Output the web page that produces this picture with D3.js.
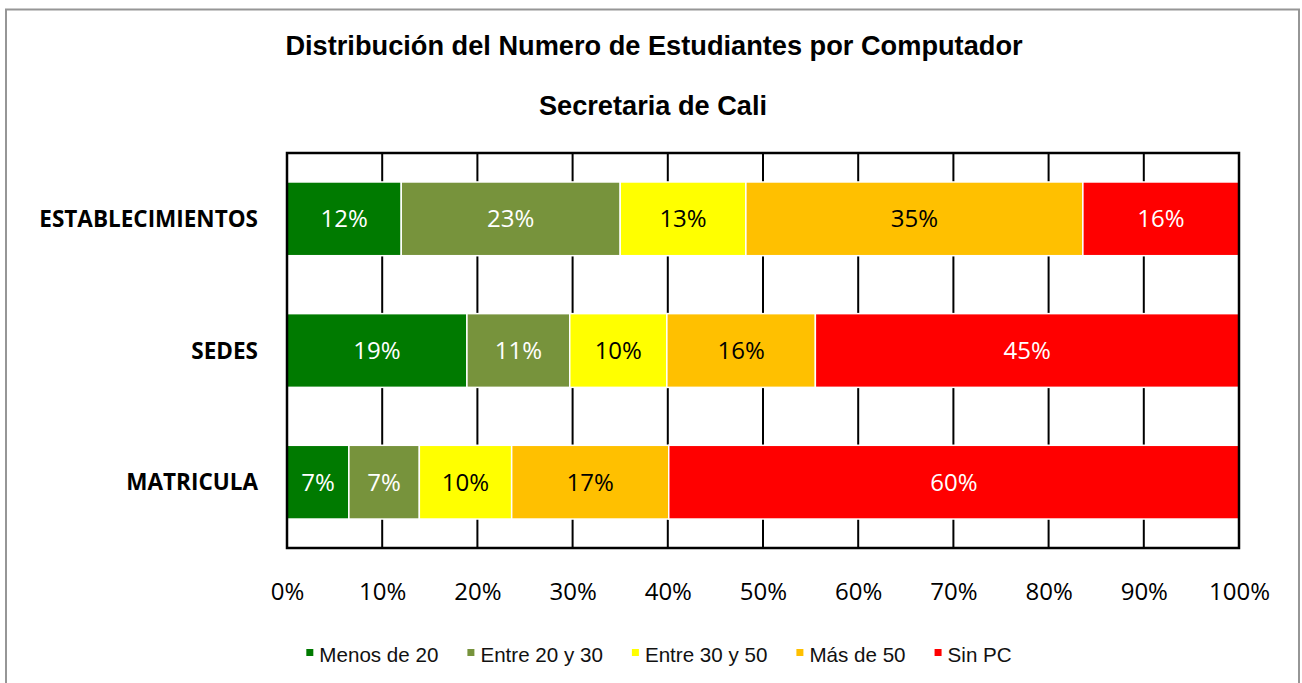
<!DOCTYPE html>
<html>
<head>
<meta charset="utf-8">
<script src="https://cdn.jsdelivr.net/npm/d3@7"></script>
<style>
  body { margin: 0; background: #fff; }
  svg { display: block; }
</style>
</head>
<body>
<div id="chart"></div>
<script>
// datos (porcentaje de cada tramo)
const categories = ['ESTABLECIMIENTOS', 'SEDES', 'MATRICULA']
const series = ['Menos de 20', 'Entre 20 y 30', 'Entre 30 y 50', 'Más de 50', 'Sin PC']
const colors = ['#007a00', '#77933c', '#ffff00', '#ffc000', '#ff0000']
const labelColors = ['#fff', '#fff', '#000', '#000', '#fff']
const establecimientos = [12.0, 23.0, 13.2, 35.4, 16.4]
const sedes = [18.9, 10.8, 10.2, 15.6, 44.5]
const matricula = [6.5, 7.4, 9.7, 16.5, 59.9]
const xTicks = [0, 0.1, 0.2, 0.3, 0.4, 0.5, 0.6, 0.7, 0.8, 0.9, 1]

const W = 1302, H = 683
const plot = { left: 287, right: 1239, top: 153, bottom: 548 }

const svg = d3.select('#chart').append('svg')
    .attr('width', W)
    .attr('height', H)

// marco exterior
svg.append('rect')
    .attr('x', 6).attr('y', 9.5)
    .attr('width', 1293).attr('height', 690)
    .attr('fill', '#fff')
    .attr('stroke', '#969696')
    .attr('stroke-width', 2)

// titulos
svg.append('text')
    .attr('x', 654).attr('y', 55)
    .attr('text-anchor', 'middle')
    .attr('font-family', 'Liberation Sans, Arial, sans-serif')
    .attr('font-weight', 'bold')
    .attr('font-size', 27.2)
    .text('Distribución del Numero de Estudiantes por Computador')
svg.append('text')
    .attr('x', 653).attr('y', 115)
    .attr('text-anchor', 'middle')
    .attr('font-family', 'Liberation Sans, Arial, sans-serif')
    .attr('font-weight', 'bold')
    .attr('font-size', 27.2)
    .text('Secretaria de Cali')

const x = d3.scaleLinear().domain([0, 1]).range([plot.left, plot.right])
const y = d3.scaleBand().domain(categories)
            .range([plot.top, plot.bottom])
            .paddingInner(0.44)
            .paddingOuter(0.22)

// lineas de division verticales
svg.append('g').selectAll('line')
    .data(xTicks.slice(1, -1))
    .join('line')
    .attr('x1', (d) => x(d)).attr('x2', (d) => x(d))
    .attr('y1', plot.top).attr('y2', plot.bottom)
    .attr('stroke', '#000')
    .attr('stroke-width', 2)

// apilar los datos
const rows = [establecimientos, sedes, matricula].map((vals, i) => {
    const total = d3.sum(vals)
    let acc = 0
    return vals.map((v, j) => {
        const seg = { cat: categories[i], j: j, v: v, x0: acc / total, x1: (acc + v) / total }
        acc += v
        return seg
    })
})

const bars = svg.append('g').selectAll('g')
    .data(rows)
    .join('g')

bars.selectAll('rect')
    .data((d) => d)
    .join('rect')
    .attr('x', (d) => x(d.x0))
    .attr('y', (d) => y(d.cat))
    .attr('width', (d) => x(d.x1) - x(d.x0))
    .attr('height', y.bandwidth())
    .attr('fill', (d) => colors[d.j])
    .attr('stroke', '#fff')
    .attr('stroke-width', 1.5)

bars.selectAll('text')
    .data((d) => d)
    .join('text')
    .attr('x', (d) => (x(d.x0) + x(d.x1)) / 2)
    .attr('y', (d) => y(d.cat) + y.bandwidth() / 2)
    .attr('dy', '0.36em')
    .attr('text-anchor', 'middle')
    .attr('font-family', 'Open Sans, sans-serif')
    .attr('font-size', 24)
    .attr('fill', (d) => labelColors[d.j])
    .text((d) => Math.round(d.v) + '%')

// borde del area de grafico
svg.append('rect')
    .attr('x', plot.left).attr('y', plot.top)
    .attr('width', plot.right - plot.left)
    .attr('height', plot.bottom - plot.top)
    .attr('fill', 'none')
    .attr('stroke', '#000')
    .attr('stroke-width', 2.5)

// etiquetas de categorias
svg.append('g').selectAll('text')
    .data(categories)
    .join('text')
    .attr('x', 258)
    .attr('y', (d) => y(d) + y.bandwidth() / 2)
    .attr('dy', '0.36em')
    .attr('text-anchor', 'end')
    .attr('font-family', 'Open Sans, sans-serif')
    .attr('font-weight', 'bold')
    .attr('font-size', 22.5)
    .text((d) => d)

// eje x
const xAxis = svg.append('g')
    .attr('transform', `translate(0,${plot.bottom})`)
    .call(d3.axisBottom(x).tickValues(xTicks).tickSize(0).tickPadding(35).tickFormat(d3.format('.0%')))
xAxis.select('.domain').remove()
xAxis.selectAll('text')
    .attr('font-family', 'Open Sans, sans-serif')
    .attr('font-size', 24)
    .attr('fill', '#000')

// leyenda
const legend = svg.append('g').attr('transform', 'translate(0,662)')
const items = legend.selectAll('g')
    .data(series)
    .join('g')
items.append('rect')
    .attr('width', 7).attr('height', 7)
    .attr('y', -13)
    .attr('fill', (d, i) => colors[i])
items.append('text')
    .attr('x', 13)
    .attr('font-family', 'Liberation Sans, Arial, sans-serif')
    .attr('font-size', 20.6)
    .attr('fill', '#111')
    .text((d) => d)
let lx = 0
const offsets = []
items.each(function () {
    offsets.push(lx)
    lx += 13 + this.querySelector('text').getComputedTextLength() + 29
})
lx -= 29
const start = 659 - lx / 2
items.attr('transform', (d, i) => `translate(${start + offsets[i]},0)`)
</script>
</body>
</html>
